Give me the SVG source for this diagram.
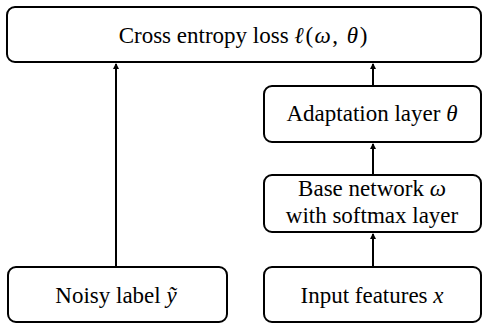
<svg xmlns="http://www.w3.org/2000/svg" width="482" height="324" viewBox="0 0 482 324">
<style>
.box{fill:#fff;stroke:#000;stroke-width:2}
.t{font-family:'Liberation Serif','Times New Roman',serif;font-size:23px;fill:#000;text-anchor:middle}
.m{font-style:italic}
.sp{letter-spacing:1.5px}
.c{stroke:#000;stroke-width:2;fill:none;marker-end:url(#ah)}
</style>
<defs>
<marker id="ah" markerWidth="6" markerHeight="7" refX="5" refY="3" orient="auto" markerUnits="userSpaceOnUse">
<path d="M0,0 L6,3 L0,6 Z" fill="#000"/>
</marker>
</defs>
<rect width="482" height="324" fill="#fff"/>
<g id="connectors">
<line class="c" x1="116" y1="267" x2="116" y2="64"/>
<line class="c" x1="373" y1="86" x2="373" y2="64"/>
<line class="c" x1="373" y1="174" x2="373" y2="144"/>
<line class="c" x1="373" y1="267" x2="373" y2="234"/>
</g>
<g id="loss">
<rect class="box" x="7" y="7" width="474" height="55" rx="8"/>
<text class="t" x="243" y="43">Cross entropy loss <tspan class="m sp">ℓ</tspan><tspan class="sp">(</tspan><tspan class="m sp">ω</tspan><tspan class="sp">, </tspan><tspan class="m sp">θ</tspan>)</text>
</g>
<g id="adaptation">
<rect class="box" x="264" y="86" width="217" height="56" rx="8"/>
<text class="t" x="372" y="121">Adaptation layer <tspan class="m">θ</tspan></text>
</g>
<g id="base">
<rect class="box" x="264" y="175" width="217" height="57" rx="8"/>
<text class="t" x="372" y="196">Base network <tspan class="m">ω</tspan></text>
<text class="t" x="372" y="223">with softmax layer</text>
</g>
<g id="noisy">
<rect class="box" x="8" y="267" width="219" height="55" rx="8"/>
<text class="t" x="116" y="303">Noisy label <tspan class="m">ỹ</tspan></text>
</g>
<g id="input">
<rect class="box" x="264" y="267" width="217" height="55" rx="8"/>
<text class="t" x="372" y="303">Input features <tspan class="m">x</tspan></text>
</g>
</svg>
